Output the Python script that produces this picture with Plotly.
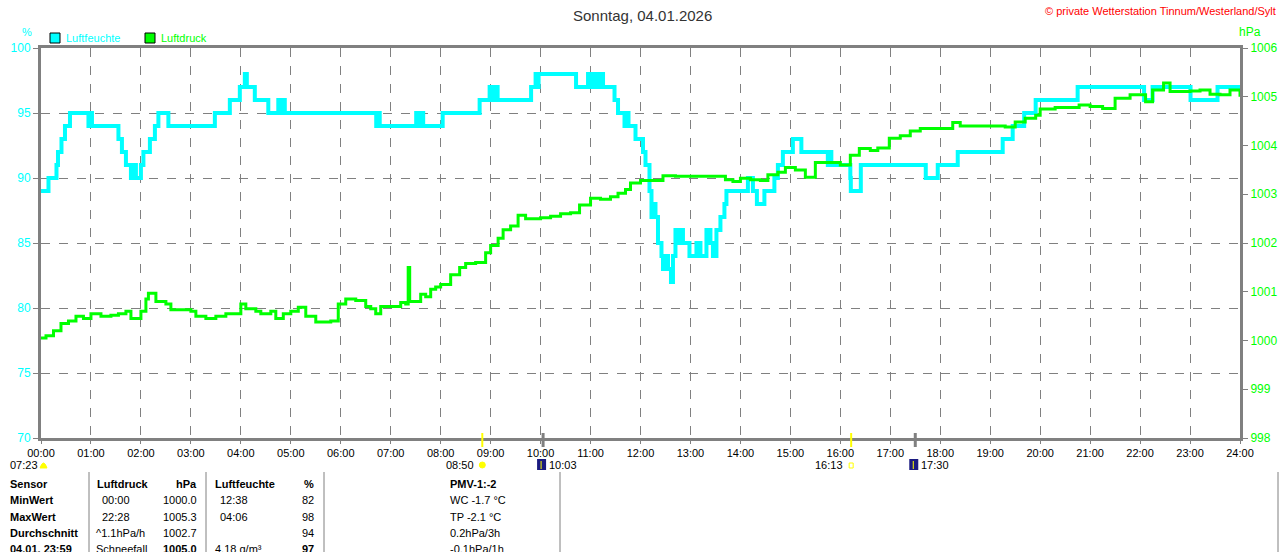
import plotly.graph_objects as go

# Luftfeuchte (step data: hour, %)
hum_hours = [0.0, 0.15, 0.31, 0.34, 0.41, 0.48, 0.58, 0.95, 0.98, 1.02, 1.55, 1.62, 1.7, 1.8, 1.85, 1.9,
             2.0, 2.05, 2.18, 2.28, 2.35, 2.55, 3.48, 3.78, 3.98, 4.08, 4.12, 4.28, 4.55, 4.75, 4.82,
             4.85, 4.88, 6.71, 6.74, 6.78, 7.51, 7.55, 7.6, 7.65, 8.04, 8.78, 8.98, 9.02, 9.08, 9.14,
             9.81, 9.9, 9.92, 9.96, 10.71, 10.95, 11.0, 11.05, 11.12, 11.18, 11.25, 11.48, 11.55,
             11.68, 11.72, 11.76, 11.9, 12.05, 12.1, 12.18, 12.22, 12.25, 12.3, 12.35, 12.42, 12.45,
             12.52, 12.55, 12.61, 12.65, 12.7, 12.75, 12.8, 12.85, 12.98, 13.12, 13.2, 13.32, 13.4,
             13.45, 13.52, 13.6, 13.68, 13.72, 14.15, 14.25, 14.33, 14.48, 14.68, 14.75, 14.85,
             15.05, 15.22, 15.75, 15.78, 15.82, 16.2, 16.21, 16.41, 17.71, 17.95, 18.35, 19.25,
             19.45, 19.68, 19.91, 20.75, 22.08, 22.25, 23.01, 23.55, 24.0]
hum_values = [89, 90, 91, 92, 93, 94, 95, 94, 95, 94, 93, 92, 91, 90, 91, 90,
              91, 92, 93, 94, 95, 94, 95, 96, 97, 98, 97, 96, 95, 96, 95,
              96, 95, 94, 95, 94, 95, 94, 95, 94, 95, 96, 97, 96, 97, 96,
              97, 98, 97, 98, 97, 98, 97, 98, 97, 98, 97, 96, 95,
              94, 95, 94, 93, 92, 91, 89, 87, 88, 87, 85, 84, 83,
              84, 83, 82, 84, 86, 85, 86, 85, 84, 85, 84, 86, 85,
              84, 86, 87, 88, 89, 90, 89, 88, 89, 90, 91, 92,
              93, 92, 91, 92, 91, 90, 89, 91, 90, 91, 92, 93,
              94, 95, 96, 97, 96, 97, 96, 97, 97]

# Luftdruck (hour, hPa)
p_hours = [0.0, 0.1, 0.25, 0.4, 0.55, 0.7, 0.85, 1.0, 1.2, 1.4, 1.55, 1.7, 1.8, 1.9, 2.0, 2.1, 2.15,
           2.3, 2.5, 2.6, 2.8, 3.0, 3.1, 3.3, 3.5, 3.7, 3.85, 4.0, 4.1, 4.3, 4.4, 4.6, 4.7, 4.85,
           5.0, 5.15, 5.3, 5.5, 5.8, 5.95, 6.1, 6.3, 6.5, 6.6, 6.7, 6.8, 7.0, 7.2, 7.3, 7.35, 7.38,
           7.5, 7.6, 7.7, 7.8, 7.9, 8.0, 8.2, 8.38, 8.5, 8.7, 8.9, 9.0, 9.15, 9.25, 9.4, 9.55, 9.7,
           10.0, 10.2, 10.4, 10.6, 10.78, 11.0, 11.2, 11.4, 11.55, 11.7, 11.8, 12.0, 12.3, 12.45,
           12.7, 13.0, 13.3, 13.5, 13.7, 13.85, 14.0, 14.2, 14.4, 14.55, 14.75, 14.9, 15.1, 15.3,
           15.5, 15.7, 16.0, 16.2, 16.38, 16.6, 16.75, 16.98, 17.2, 17.4, 17.6, 18.0, 18.25, 18.4,
           19.0, 19.3, 19.5, 19.7, 19.91, 20.0, 20.3, 20.6, 20.78, 21.0, 21.25, 21.5, 21.8, 22.0,
           22.11, 22.25, 22.47, 22.6, 23.0, 23.2, 23.4, 23.6, 23.8, 24.0]
p_values = [1000.05, 1000.1, 1000.2, 1000.35, 1000.4, 1000.5, 1000.45, 1000.55, 1000.5, 1000.52,
            1000.55, 1000.6, 1000.45, 1000.45, 1000.6, 1000.85, 1000.97, 1000.8, 1000.75, 1000.63,
            1000.63, 1000.6, 1000.5, 1000.45, 1000.5, 1000.55, 1000.55, 1000.75, 1000.65, 1000.6,
            1000.55, 1000.6, 1000.45, 1000.55, 1000.6, 1000.68, 1000.5, 1000.38, 1000.4, 1000.75,
            1000.85, 1000.82, 1000.7, 1000.65, 1000.55, 1000.7, 1000.7, 1000.78, 1000.75, 1001.5,
            1000.8, 1000.8, 1000.95, 1000.9, 1001.05, 1001.1, 1001.15, 1001.35, 1001.5, 1001.58,
            1001.6, 1001.8, 1001.95, 1002.1, 1002.27, 1002.35, 1002.57, 1002.5, 1002.52, 1002.55,
            1002.6, 1002.62, 1002.78, 1002.92, 1002.9, 1002.95, 1003.02, 1003.1, 1003.23, 1003.28,
            1003.28, 1003.38, 1003.37, 1003.37, 1003.37, 1003.37, 1003.3, 1003.26, 1003.33, 1003.3,
            1003.28, 1003.4, 1003.45, 1003.55, 1003.5, 1003.35, 1003.65, 1003.65, 1003.6, 1003.8,
            1003.94, 1003.9, 1003.95, 1004.15, 1004.2, 1004.3, 1004.35, 1004.35, 1004.47, 1004.4,
            1004.4, 1004.38, 1004.48, 1004.56, 1004.62, 1004.75, 1004.78, 1004.78, 1004.83, 1004.8,
            1004.76, 1004.97, 1005.04, 1005.04, 1004.9, 1005.14, 1005.28, 1005.11, 1005.12, 1005.14,
            1005.05, 1005.04, 1005.14, 1005.0]

hour_labels = ["%02d:00" % h for h in range(25)]
hum_ticks = [70, 75, 80, 85, 90, 95, 100]
p_ticks = [998, 999, 1000, 1001, 1002, 1003, 1004, 1005, 1006]

# Table below the chart
table_header = ["Sensor", "Luftdruck", "hPa", "Luftfeuchte", "%", "PMV-1:-2"]
row_labels = ["MinWert", "MaxWert", "Durchschnitt", "04.01. 23:59"]
druck_info = ["00:00", "22:28", "^1.1hPa/h", "Schneefall"]
druck_vals = ["1000.0", "1005.3", "1002.7", "1005.0"]
feuchte_info = ["12:38", "04:06", "", "4.18 g/m³"]
feuchte_vals = ["82", "98", "94", "97"]
extra_info = ["WC -1.7 °C", "TP -2.1 °C", "0.2hPa/3h", "-0.1hPa/1h"]

# sun / moon events (hour, label)
sunrise = (7 + 23 / 60, "07:23")
sun_high = (8 + 50 / 60, "08:50")
moon_set = (10 + 3 / 60, "10:03")
sunset = (16 + 13 / 60, "16:13")
moon_rise = (17.5, "17:30")

CYAN = "#00FFFF"
GREEN = "#00FF00"
GRAY = "#808080"
FONT = "Liberation Sans"

# plot area in pixels
L, R, T, B = 41, 1240, 48, 438


def py(p):
    return (B - p) / (B - T)


def px(p):
    return (p - L) / (R - L)


fig = go.Figure()
fig.add_trace(go.Scatter(x=p_hours, y=p_values, yaxis="y2", mode="lines",
                         line=dict(color=GREEN, width=3, shape="hv"), showlegend=False))
fig.add_trace(go.Scatter(x=hum_hours, y=hum_values, mode="lines",
                         line=dict(color=CYAN, width=4, shape="hv"), showlegend=False))

fig.update_layout(
    width=1280, height=552,
    margin=dict(l=L, r=1280 - R, t=T, b=552 - B, autoexpand=False),
    paper_bgcolor="white", plot_bgcolor="white",
    font=dict(family=FONT, size=11, color="black"),
    xaxis=dict(range=[0, 24], tickvals=list(range(25)), ticktext=hour_labels, automargin=False,
               showgrid=True, gridcolor=GRAY, griddash="dash", gridwidth=1,
               showline=True, linecolor=GRAY, linewidth=3, mirror=True,
               ticks="outside", ticklen=3, tickcolor=GRAY, zeroline=False,
               tickfont=dict(size=11, color="black")),
    yaxis=dict(range=[70, 100], tickvals=hum_ticks, showgrid=True, gridcolor=GRAY, automargin=False,
               griddash="dash", gridwidth=1, showline=True, linecolor=GRAY, linewidth=3,
               ticks="outside", ticklen=5, tickcolor=GRAY, zeroline=False,
               tickfont=dict(size=12, color=CYAN)),
    yaxis2=dict(range=[998, 1006], tickvals=p_ticks, overlaying="y", side="right", automargin=False,
                showgrid=False, showline=True, linecolor=GRAY, linewidth=3,
                ticks="outside", ticklen=5, tickcolor=GRAY, zeroline=False,
                tickfont=dict(size=12, color=GREEN)),
)

ann = []


def text(x, y, s, color="black", size=11, xanchor="left", bold=False):
    if bold:
        s = "<b>" + s + "</b>"
    ann.append(dict(x=px(x), y=py(y), xref="paper", yref="paper", text=s, showarrow=False,
                    xanchor=xanchor, yanchor="middle", font=dict(family=FONT, size=size, color=color)))


text(642, 15, "Sonntag, 04.01.2026", color="#333333", size=15, xanchor="center")
text(1278, 11, "© private Wetterstation Tinnum/Westerland/Sylt", color="#FF0000", size=11, xanchor="right")
text(27, 32, "%", color=CYAN, size=11, xanchor="center")
text(1250, 32, "hPa", color=GREEN, size=12, xanchor="center")
text(64, 38, "Luftfeuchte", color=CYAN, size=11)
text(159, 38, "Luftdruck", color=GREEN, size=11)

shapes = []
for x0, c in [(50, CYAN), (145, GREEN)]:
    shapes.append(dict(type="rect", xref="paper", yref="paper", x0=px(x0), x1=px(x0 + 10),
                       y0=py(43), y1=py(33), fillcolor=c, line=dict(color="black", width=1)))

# sun / moon markers on the time axis
xr = lambda h: L + h * (R - L) / 24
for h, c in [(sun_high[0], "#FFFF00"), (sunset[0], "#FFFF00"), (moon_set[0], GRAY), (moon_rise[0], GRAY)]:
    shapes.append(dict(type="line", xref="paper", yref="paper", x0=px(xr(h)), x1=px(xr(h)),
                       y0=py(447), y1=py(433), line=dict(color=c, width=3 if c == GRAY else 2)))

text(8, 465, sunrise[1])
shapes.append(dict(type="path", xref="paper", yref="paper",
                   path="M %f,%f Q %f,%f %f,%f Z" % (px(40), py(468), px(43.5), py(458), px(47), py(468)),
                   fillcolor="#FFFF00", line=dict(color="#FFFF00", width=1)))
text(xr(sun_high[0]) - 6, 465, sun_high[1], xanchor="right")
shapes.append(dict(type="circle", xref="paper", yref="paper", x0=px(xr(sun_high[0]) - 3), x1=px(xr(sun_high[0]) + 3),
                   y0=py(468), y1=py(462), fillcolor="#FFFF00", line=dict(color="#FFFF00", width=1)))
text(xr(sunset[0]) - 6, 465, sunset[1], xanchor="right")
shapes.append(dict(type="rect", xref="paper", yref="paper", x0=px(xr(sunset[0]) - 2), x1=px(xr(sunset[0]) + 2),
                   y0=py(468), y1=py(463), line=dict(color="#FFFF00", width=1)))
for h, lab in [moon_set, moon_rise]:
    xm = xr(h)
    shapes.append(dict(type="rect", xref="paper", yref="paper", x0=px(xm - 6), x1=px(xm + 3),
                       y0=py(470), y1=py(459), fillcolor="#1A1A80", line=dict(width=0)))
    shapes.append(dict(type="line", xref="paper", yref="paper", x0=px(xm - 2), x1=px(xm - 2),
                       y0=py(469), y1=py(461), line=dict(color="#FFFF00", width=1)))
    text(xm + 4, 465, lab)

# table
row_y = [500, 517, 533, 549]
text(8, 484, table_header[0], bold=True)
text(95, 484, table_header[1], bold=True)
text(199, 484, table_header[2], bold=True, xanchor="right")
text(213, 484, table_header[3], bold=True)
text(316, 484, table_header[4], bold=True, xanchor="right")
text(448, 484, table_header[5], bold=True)
for i, y in enumerate(row_y):
    last = i == len(row_y) - 1
    text(8, y, row_labels[i], bold=True)
    text(100 if ":" in druck_info[i] else 94, y, druck_info[i])
    text(199, y, druck_vals[i], xanchor="right", bold=last)
    if feuchte_info[i]:
        text(218 if ":" in feuchte_info[i] else 213, y, feuchte_info[i])
    text(316, y, feuchte_vals[i], xanchor="right", bold=last)
    text(448, y, extra_info[i])

for xs in [89, 206, 324, 560, 1278]:
    shapes.append(dict(type="line", xref="paper", yref="paper", x0=px(xs), x1=px(xs),
                       y0=py(472), y1=py(560), line=dict(color=GRAY, width=1)))

fig.update_layout(annotations=ann, shapes=shapes)
fig.write_html("out.html", config={"displayModeBar": False},
               post_script="document.body.style.margin='0';document.body.style.overflow='hidden';")
